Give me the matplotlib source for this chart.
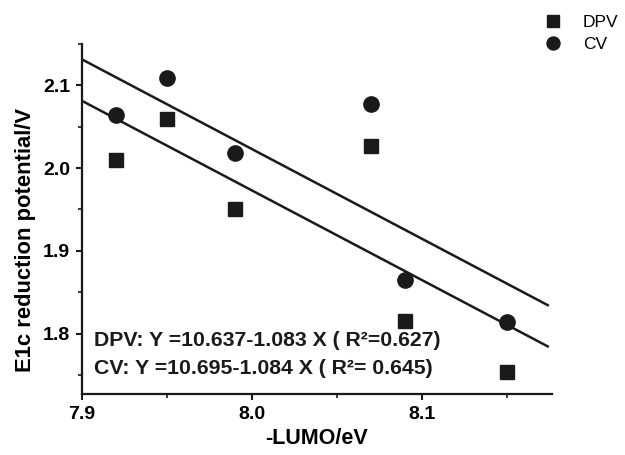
import numpy as np
import matplotlib.pyplot as plt
from matplotlib.ticker import MultipleLocator

plt.rcParams['font.family'] = ['Liberation Sans', 'DejaVu Sans']

# values
lumo = [7.92, 7.95, 7.99, 8.07, 8.09, 8.15]
dpv = [2.010, 2.059, 1.950, 2.027, 1.815, 1.754]
cv = [2.064, 2.109, 2.018, 2.077, 1.865, 1.814]

# fit coefficients printed on the chart
dpv_fit = (10.637, -1.083)
cv_fit = (10.695, -1.084)
fit_x = [7.9, 8.174]

ink = '#1a1a1a'

fig = plt.figure(figsize=(6.25, 4.55), dpi=100)
ax = fig.add_axes([0.1312, 0.134, 0.752, 0.7693])

ax.plot(lumo, dpv, 's', color=ink, ms=9.5, label='DPV', clip_on=False)
ax.plot(lumo, cv, 'o', color=ink, ms=11, label='CV', clip_on=False)

fx = np.array(fit_x)
ax.plot(fx, dpv_fit[0] + dpv_fit[1]*fx, color=ink, lw=1.8)
ax.plot(fx, cv_fit[0] + cv_fit[1]*fx, color=ink, lw=1.8)

ax.set_xlim(7.9, 8.1765)
ax.set_ylim(1.727, 2.15)
ax.xaxis.set_major_locator(MultipleLocator(0.1))
ax.xaxis.set_minor_locator(MultipleLocator(0.05))
ax.yaxis.set_major_locator(MultipleLocator(0.1))
ax.yaxis.set_minor_locator(MultipleLocator(0.05))
ax.xaxis.set_major_formatter(plt.FormatStrFormatter('%.1f'))
ax.yaxis.set_major_formatter(plt.FormatStrFormatter('%.1f'))

for s in ['top', 'right']:
    ax.spines[s].set_visible(False)
for s in ['left', 'bottom']:
    ax.spines[s].set_linewidth(1.6)
    ax.spines[s].set_color(ink)

ax.tick_params(which='major', length=4.5, width=1.5, color=ink, labelsize=14, pad=4)
ax.tick_params(which='minor', length=3, width=1.2, color=ink)
for lab in ax.get_xticklabels() + ax.get_yticklabels():
    lab.set_fontweight('bold')

ax.set_xlabel('-LUMO/eV', fontsize=15.5, fontweight='bold', va='center')
ax.xaxis.set_label_coords(0.5, -0.126)
ax.set_ylabel('E1c reduction potential/V', fontsize=15.8, fontweight='bold', va='center')
ax.yaxis.set_label_coords(-0.121, 0.44)

ax.text(0.0255, 0.154, 'DPV: Y =10.637-1.083 X ( R\u00b2=0.627)', transform=ax.transAxes,
        fontsize=15.3, fontweight='bold', va='center', ha='left', color=ink)
ax.text(0.0255, 0.074, 'CV: Y =10.695-1.084 X ( R\u00b2= 0.645)', transform=ax.transAxes,
        fontsize=15.3, fontweight='bold', va='center', ha='left', color=ink)

ax.legend(loc='upper left', bbox_to_anchor=(0.851, 0.993), bbox_transform=fig.transFigure,
          frameon=False, fontsize=12.5, handlelength=1.0, handletextpad=1.25,
          labelspacing=0.35, markerscale=0.85, borderaxespad=0.3)

plt.savefig('out.png', dpi=100)
